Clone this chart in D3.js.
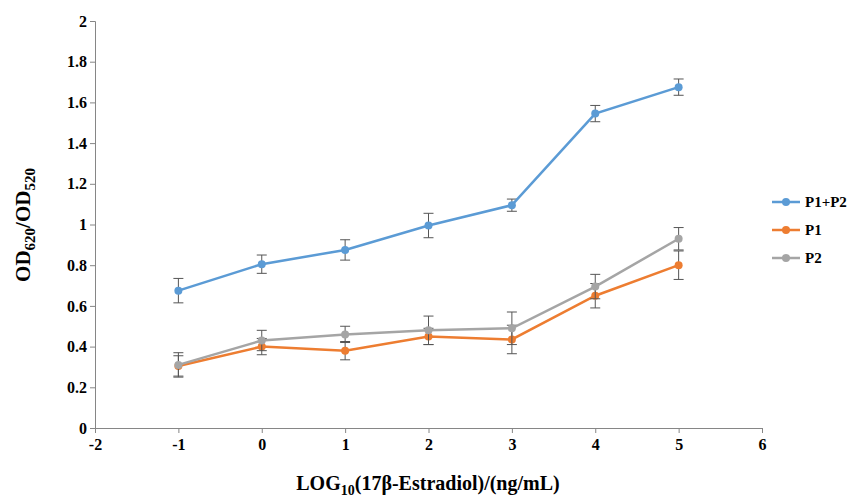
<!DOCTYPE html>
<html><head><meta charset="utf-8">
<script src="https://cdn.jsdelivr.net/npm/d3@7"></script>
<style>body{margin:0;background:#fff}text{font-family:"Liberation Serif","Times New Roman",serif;font-weight:bold}</style>
</head><body>
<script>
var xs = [-1, 0, 1, 2, 3, 4, 5];
var seriesNames = ["P1+P2", "P1", "P2"];
var colors = ["#5b9bd5", "#ed7d31", "#a5a5a5"];
var p1p2 = [0.675, 0.805, 0.875, 0.995, 1.095, 1.545, 1.675];
var p1p2Err = [0.06, 0.045, 0.05, 0.06, 0.03, 0.04, 0.04];
var p1 = [0.305, 0.40, 0.38, 0.45, 0.435, 0.65, 0.80];
var p1Err = [0.05, 0.04, 0.045, 0.04, 0.07, 0.06, 0.07];
var p2 = [0.31, 0.43, 0.46, 0.48, 0.49, 0.695, 0.93];
var p2Err = [0.06, 0.05, 0.04, 0.07, 0.08, 0.06, 0.055];
var xTicks = [-2, -1, 0, 1, 2, 3, 4, 5, 6];
var yTicks = [0, 0.2, 0.4, 0.6, 0.8, 1, 1.2, 1.4, 1.6, 1.8, 2];

var svg = d3.select("body").append("svg").attr("width", 863).attr("height", 503);
var x = d3.scaleLinear().domain([-2, 6]).range([95, 762]);
var y = d3.scaleLinear().domain([0, 2]).range([428, 21]);

var xa = svg.append("g").attr("transform", "translate(0,428)")
  .call(d3.axisBottom(x).tickValues(xTicks).tickSize(5).tickFormat(function (d) { return String(d); }));
var ya = svg.append("g").attr("transform", "translate(95,0)")
  .call(d3.axisLeft(y).tickValues(yTicks).tickSize(5).tickFormat(function (d) { return String(+d.toFixed(1)); }));
[xa, ya].forEach(function (a) {
  a.selectAll("path,line").attr("stroke", "#868686");
  a.selectAll("text").style("font-size", "16px").attr("fill", "#000");
});
xa.selectAll("text").attr("dy", "0.9em");

var data = [[p1p2, p1p2Err], [p1, p1Err], [p2, p2Err]];
var line = d3.line().x(function (d) { return x(d[0]); }).y(function (d) { return y(d[1]); });

data.forEach(function (s, i) {
  var pts = xs.map(function (v, j) { return [v, s[0][j], s[1][j]]; });
  var g = svg.append("g");
  pts.forEach(function (p) {
    g.append("line").attr("x1", x(p[0])).attr("x2", x(p[0]))
      .attr("y1", y(p[1] - p[2])).attr("y2", y(p[1] + p[2])).attr("stroke", "#555").attr("stroke-width", 1);
    [p[1] - p[2], p[1] + p[2]].forEach(function (e) {
      g.append("line").attr("x1", x(p[0]) - 5).attr("x2", x(p[0]) + 5)
        .attr("y1", y(e)).attr("y2", y(e)).attr("stroke", "#555");
    });
  });
  g.append("path").datum(pts).attr("d", line).attr("fill", "none")
    .attr("stroke", colors[i]).attr("stroke-width", 2.5);
  g.selectAll("circle").data(pts).enter().append("circle")
    .attr("cx", function (d) { return x(d[0]); }).attr("cy", function (d) { return y(d[1]); })
    .attr("r", 4).attr("fill", colors[i]);
});

var leg = svg.append("g");
seriesNames.forEach(function (n, i) {
  var ly = 202 + i * 28;
  leg.append("line").attr("x1", 772).attr("x2", 800).attr("y1", ly).attr("y2", ly)
    .attr("stroke", colors[i]).attr("stroke-width", 2.5);
  leg.append("circle").attr("cx", 786).attr("cy", ly).attr("r", 4).attr("fill", colors[i]);
  leg.append("text").attr("x", 805).attr("y", ly + 5).style("font-size", "15px").text(n);
});

var xl = svg.append("text").attr("x", 428).attr("y", 490).attr("text-anchor", "middle").style("font-size", "20px");
xl.append("tspan").text("LOG");
xl.append("tspan").attr("dy", 5).style("font-size", "14px").text("10");
xl.append("tspan").attr("dy", -5).text("(17β-Estradiol)/(ng/mL)");

var yl = svg.append("text").attr("transform", "translate(30,225) rotate(-90)").attr("text-anchor", "middle").style("font-size", "21px");
yl.append("tspan").text("OD");
yl.append("tspan").attr("dy", 5).style("font-size", "15px").text("620");
yl.append("tspan").attr("dy", -5).text("/OD");
yl.append("tspan").attr("dy", 5).style("font-size", "15px").text("520");
</script>
</body></html>
